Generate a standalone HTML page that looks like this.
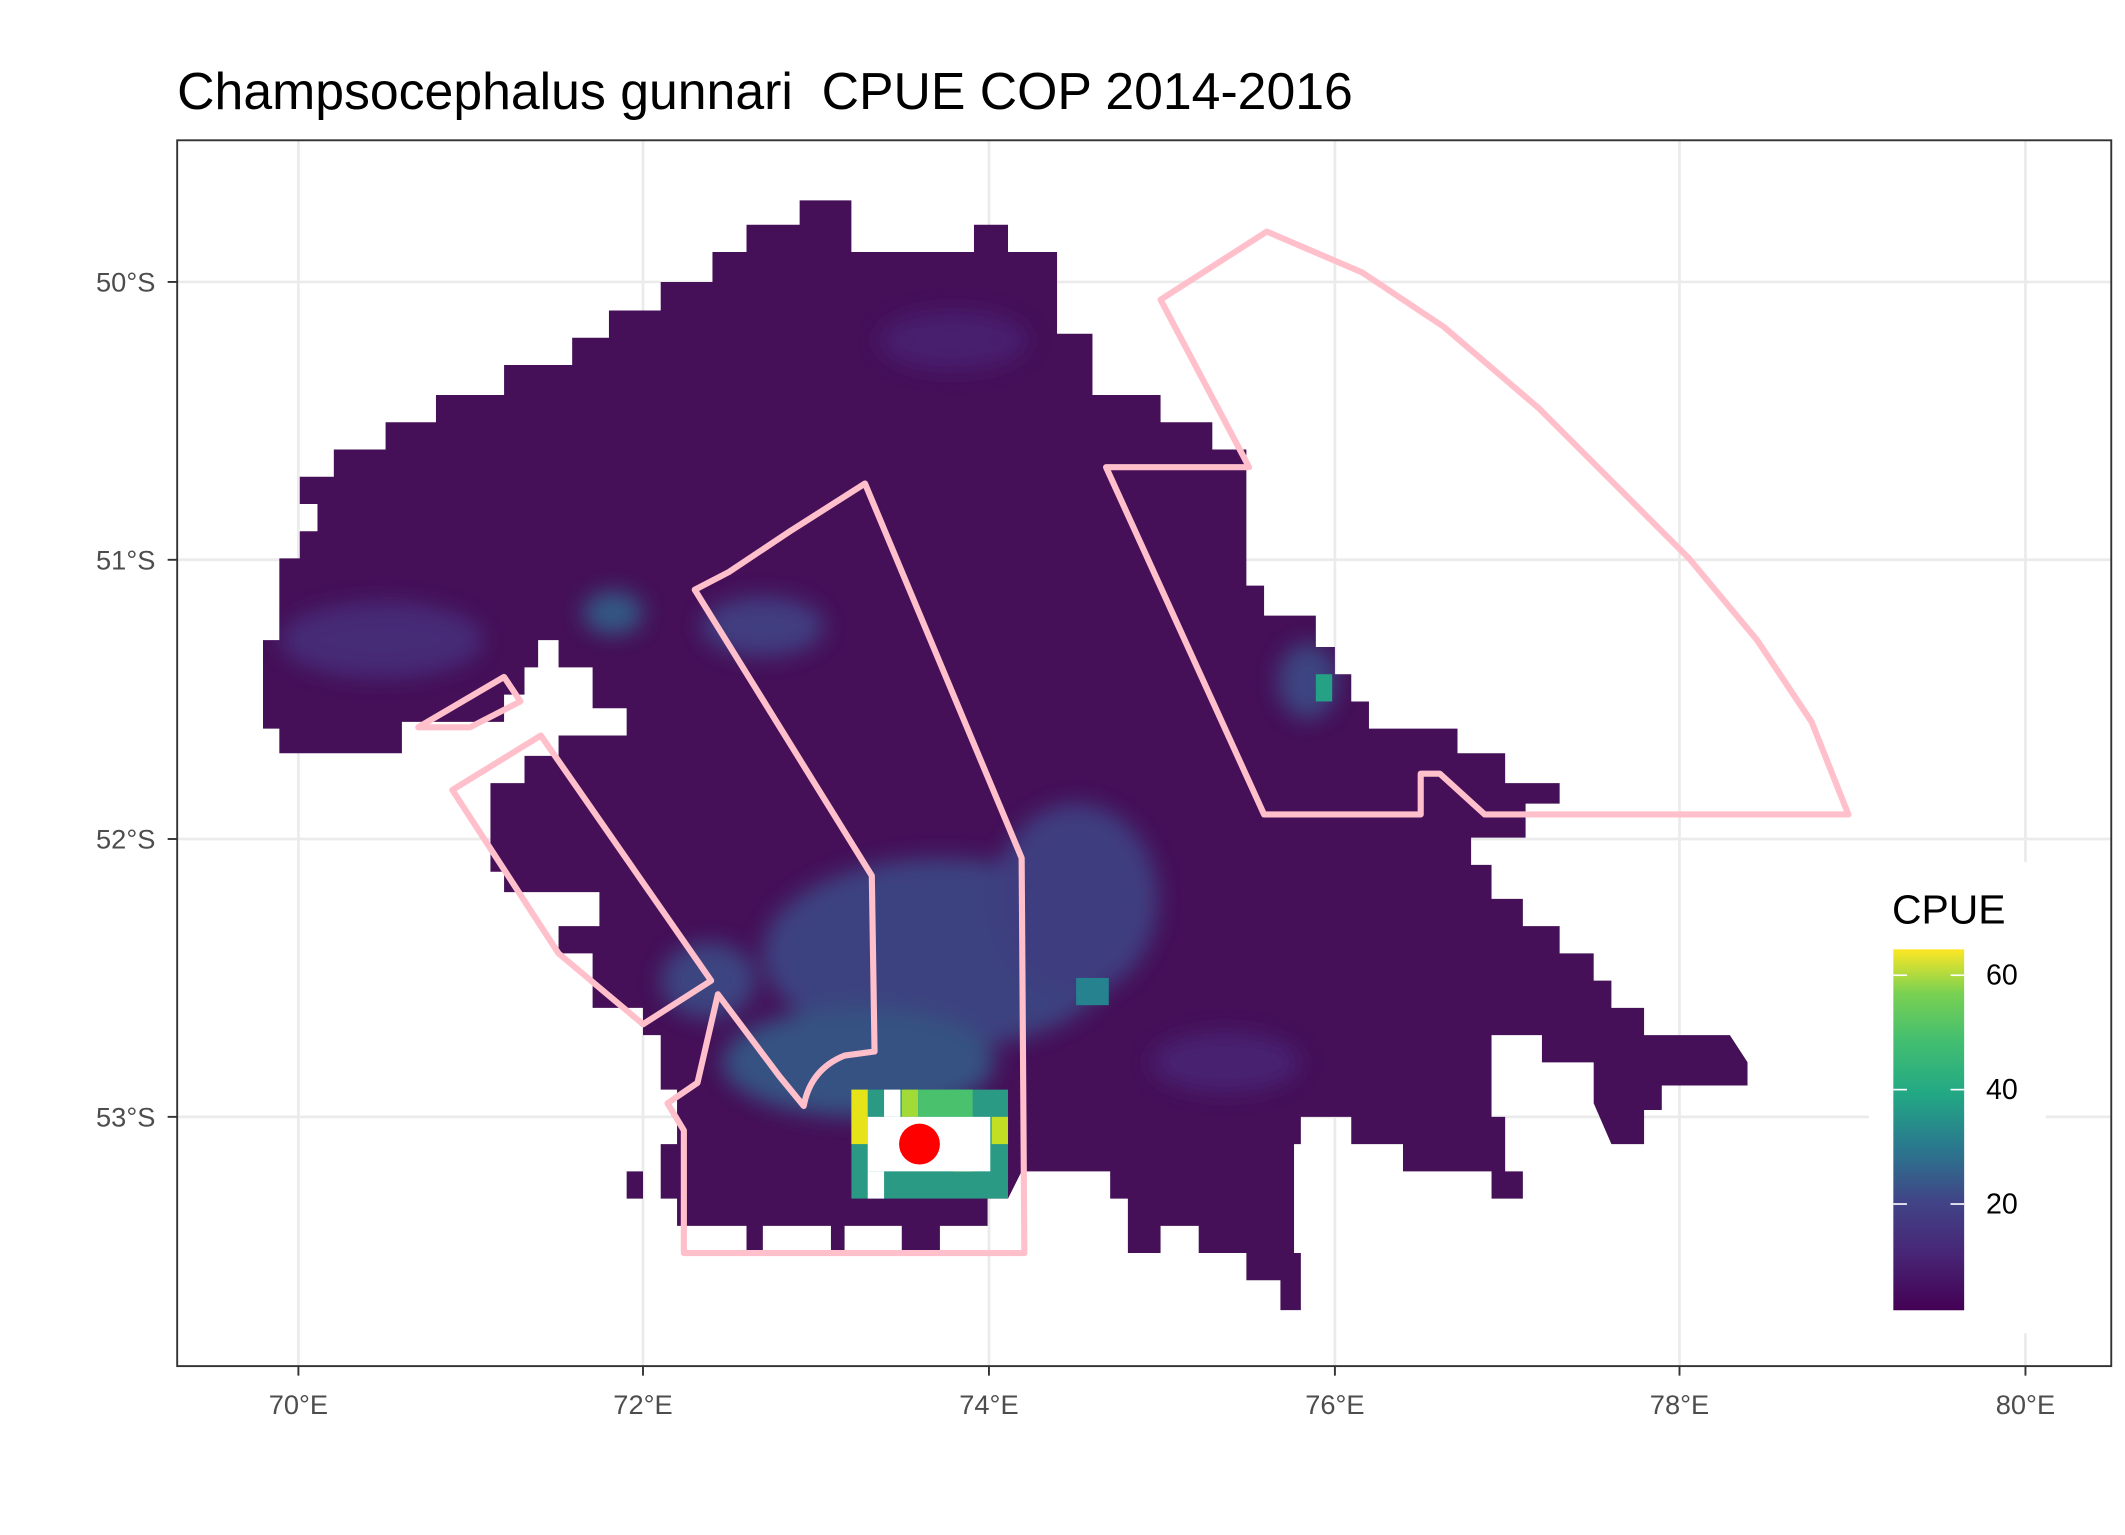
<!DOCTYPE html>
<html><head><meta charset="utf-8"><style>
html,body{margin:0;padding:0;background:#fff;}
svg{display:block;}
text{font-family:"Liberation Sans",Arial,sans-serif;}
</style></head><body>
<svg width="2125" height="1535" viewBox="0 0 1560 1127" xmlns="http://www.w3.org/2000/svg">
<defs>
<linearGradient id="vir" x1="0" y1="1" x2="0" y2="0">
<stop offset="0" stop-color="#440154"/>
<stop offset="0.15" stop-color="#482475"/>
<stop offset="0.3" stop-color="#414487"/>
<stop offset="0.45" stop-color="#2a788e"/>
<stop offset="0.6" stop-color="#22a884"/>
<stop offset="0.75" stop-color="#44bf70"/>
<stop offset="0.88" stop-color="#7ad151"/>
<stop offset="1" stop-color="#fde725"/>
</linearGradient>
<filter id="bl" x="-20%" y="-20%" width="140%" height="140%"><feGaussianBlur stdDeviation="8"/></filter>
<clipPath id="landclip"><path d="M587,147 L625,147 L625,185 L715,185 L715,165 L740,165 L740,185 L776,185 L776,245 L802,245 L802,290 L852,290 L852,310 L890,310 L890,330 L915,330 L915,430 L928,430 L928,452 L966,452 L966,475 L980,475 L980,495 L992,495 L992,515 L1005,515 L1005,535 L1070,535 L1070,553 L1105,553 L1105,575 L1145,575 L1145,590 L1120,590 L1120,615 L1080,615 L1080,635 L1095,635 L1095,660 L1118,660 L1118,680 L1145,680 L1145,700 L1170,700 L1170,720 L1183,720 L1183,740 L1207,740 L1207,760 L1270,760 L1283,780 L1283,797 L1220,797 L1220,815 L1207,815 L1207,840 L1183,840 L1170,810 L1170,780 L1132,780 L1132,760 L1095,760 L1095,820 L1105,820 L1105,860 L1118,860 L1118,880 L1095,880 L1095,860 L1030,860 L1030,840 L992,840 L992,820 L955,820 L955,840 L950,840 L950,920 L955,920 L955,962 L940,962 L940,940 L915,940 L915,920 L880,920 L880,900 L852,900 L852,920 L828,920 L828,880 L815,880 L815,860 L750,860 L740,880 L725,880 L725,900 L690,900 L690,918 L662,918 L662,900 L620,900 L620,918 L610,918 L610,900 L560,900 L560,918 L548,918 L548,900 L497,900 L497,880 L472,880 L472,860 L460,860 L460,880 L485,880 L485,840 L497,840 L497,800 L485,800 L485,760 L472,760 L472,740 L435,740 L435,700 L410,700 L410,680 L440,680 L440,655 L370,655 L370,640 L360,640 L360,575 L385,575 L385,555 L410,555 L410,540 L460,540 L460,520 L435,520 L435,490 L410,490 L410,470 L395,470 L395,490 L385,490 L385,510 L370,510 L370,530 L295,530 L295,553 L205,553 L205,535 L193,535 L193,470 L205,470 L205,410 L220,410 L220,390 L233,390 L233,370 L220,370 L220,350 L245,350 L245,330 L283,330 L283,310 L320,310 L320,290 L370,290 L370,268 L420,268 L420,248 L447,248 L447,228 L485,228 L485,207 L523,207 L523,185 L548,185 L548,165 L587,165 Z"/></clipPath>
</defs>
<rect width="1560" height="1127" fill="#fff"/>
<text x="130" y="80" font-size="38" fill="#000" xml:space="preserve">Champsocephalus gunnari  CPUE COP 2014-2016</text>
<g stroke="#EBEBEB" stroke-width="2">
<line x1="219" y1="103" x2="219" y2="1003"/><line x1="472" y1="103" x2="472" y2="1003"/><line x1="726" y1="103" x2="726" y2="1003"/><line x1="980" y1="103" x2="980" y2="1003"/><line x1="1233" y1="103" x2="1233" y2="1003"/><line x1="1487" y1="103" x2="1487" y2="1003"/>
<line x1="130" y1="207" x2="1550" y2="207"/><line x1="130" y1="411" x2="1550" y2="411"/><line x1="130" y1="616" x2="1550" y2="616"/><line x1="130" y1="820" x2="1550" y2="820"/>
</g>
<g clip-path="url(#landclip)">
<rect x="150" y="120" width="1200" height="900" fill="#451058"/>
<g filter="url(#bl)" opacity="0.8">
<ellipse cx="690" cy="700" rx="130" ry="70" fill="#3b4f8a"/>
<ellipse cx="790" cy="660" rx="60" ry="70" fill="#3d4a89"/>
<ellipse cx="630" cy="780" rx="100" ry="40" fill="#33648d"/>
<ellipse cx="560" cy="460" rx="45" ry="22" fill="#3f4a8a"/>
<ellipse cx="450" cy="450" rx="22" ry="16" fill="#2e6a8e"/>
<ellipse cx="280" cy="470" rx="75" ry="28" fill="#46337f"/>
<ellipse cx="520" cy="720" rx="35" ry="28" fill="#3b528b"/>
<ellipse cx="960" cy="500" rx="22" ry="28" fill="#3b528b"/>
<ellipse cx="900" cy="780" rx="55" ry="22" fill="#482878"/>
<ellipse cx="700" cy="250" rx="55" ry="22" fill="#482475"/>
</g>
<rect x="790" y="718" width="24" height="20" fill="#26828e"/>
<rect x="966" y="495" width="12" height="20" fill="#25a186"/>
<rect x="625" y="800" width="115" height="80" fill="#2a9a85"/>
<rect x="625" y="800" width="12" height="40" fill="#e6e419"/>
<rect x="662" y="800" width="12" height="20" fill="#a2da37"/>
<rect x="674" y="800" width="40" height="20" fill="#4ac16d"/>
<rect x="728" y="820" width="12" height="20" fill="#c2df23"/>
<rect x="700" y="840" width="14" height="20" fill="#fde725"/>
<rect x="637" y="820" width="90" height="40" fill="#fff"/>
<rect x="637" y="860" width="12" height="20" fill="#fff"/>
<rect x="649" y="800" width="12" height="20" fill="#fff"/>
</g>
<circle cx="675" cy="840" r="15" fill="#ff0000"/>
<g fill="none" stroke="#FFC0CB" stroke-width="4.5" stroke-linejoin="round">
<path d="M852,220 L930,170 L1000,200 L1060,240 L1130,300 L1185,355 L1240,410 L1290,470 L1330,530 L1357,598 L1090,598 L1057,568 L1043,568 L1043,598 L928,598 L812,343 L917,343 Z"/>
<path d="M510,433 L535,420 L580,390 L635,355 L750,630 L752,920 L502,920 L502,830 L490,810 L512,795 L527,730 L572,790 L590,812 Q595,785 620,775 L642,772 L640,643 Z"/>
<path d="M332,580 L397,540 L522,720 L472,752 L410,700 Z"/>
<path d="M307,534 L370,497 L382,515 L345,534 Z"/>
</g>
<rect x="130" y="103" width="1420" height="900" fill="none" stroke="#333" stroke-width="1.4"/>
<g stroke="#333" stroke-width="1.4">
<line x1="219" y1="1003" x2="219" y2="1010"/><line x1="472" y1="1003" x2="472" y2="1010"/><line x1="726" y1="1003" x2="726" y2="1010"/><line x1="980" y1="1003" x2="980" y2="1010"/><line x1="1233" y1="1003" x2="1233" y2="1010"/><line x1="1487" y1="1003" x2="1487" y2="1010"/>
<line x1="123" y1="207" x2="130" y2="207"/><line x1="123" y1="411" x2="130" y2="411"/><line x1="123" y1="616" x2="130" y2="616"/><line x1="123" y1="820" x2="130" y2="820"/>
</g>
<g font-size="20" fill="#4D4D4D" text-anchor="middle">
<text x="219" y="1038">70°E</text><text x="472" y="1038">72°E</text><text x="726" y="1038">74°E</text><text x="980" y="1038">76°E</text><text x="1233" y="1038">78°E</text><text x="1487" y="1038">80°E</text>
</g>
<g font-size="20" fill="#4D4D4D" text-anchor="end">
<text x="114" y="214">50°S</text><text x="114" y="418">51°S</text><text x="114" y="623">52°S</text><text x="114" y="827">53°S</text>
</g>
<rect x="1372" y="633" width="130" height="346" fill="#fff"/>
<text x="1389" y="678" font-size="30" fill="#000">CPUE</text>
<rect x="1390" y="697" width="52" height="265" fill="url(#vir)"/>
<g stroke="#fff" stroke-width="1.2">
<line x1="1390" y1="716" x2="1400" y2="716"/><line x1="1432" y1="716" x2="1442" y2="716"/>
<line x1="1390" y1="800" x2="1400" y2="800"/><line x1="1432" y1="800" x2="1442" y2="800"/>
<line x1="1390" y1="884" x2="1400" y2="884"/><line x1="1432" y1="884" x2="1442" y2="884"/>
</g>
<g font-size="21" fill="#000">
<text x="1458" y="723">60</text><text x="1458" y="807">40</text><text x="1458" y="891">20</text>
</g>
</svg>
</body></html>
